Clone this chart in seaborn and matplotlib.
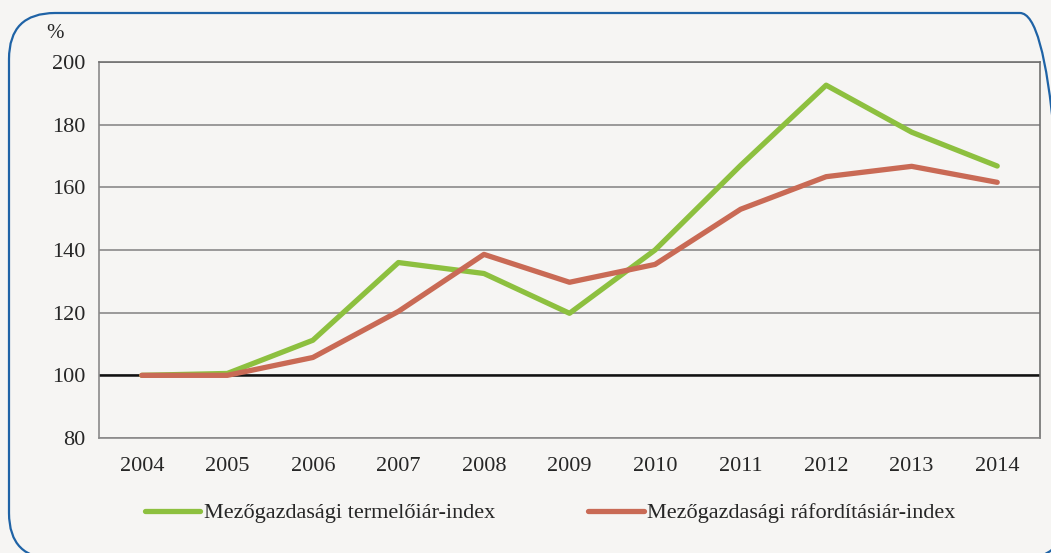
import numpy as np
import pandas as pd
import seaborn as sns
import matplotlib.pyplot as plt
from matplotlib.patches import FancyBboxPatch

years = ["2004", "2005", "2006", "2007", "2008", "2009", "2010", "2011", "2012", "2013", "2014"]
termelo = [100, 100.6, 111.2, 136, 132.5, 119.8, 140, 167, 192.6, 177.6, 166.8]
raforditas = [100, 100, 105.7, 120.4, 138.6, 129.7, 135.4, 153, 163.4, 166.7, 161.6]
series_names = ["Mezőgazdasági termelőiár-index", "Mezőgazdasági ráfordításiár-index"]
colors = ["#8DC03F", "#C96A55"]

df = pd.DataFrame({
    "year": years * 2,
    "value": termelo + raforditas,
    "series": [series_names[0]] * len(years) + [series_names[1]] * len(years),
})

sns.set_style("white")
plt.rcParams["font.family"] = ["Liberation Serif", "DejaVu Serif"]

bg = "#F6F5F3"
W, H = 1051, 553
fig = plt.figure(figsize=(W / 100, H / 100), dpi=100, facecolor=bg)

# background axes in pixel units (origin bottom-left) for the rounded blue frame
bgax = fig.add_axes([0, 0, 1, 1])
bgax.set_xlim(0, W)
bgax.set_ylim(0, H)
bgax.axis("off")
bgax.add_patch(FancyBboxPatch((9, -6), 1057, 546, boxstyle="round,pad=0,rounding_size=46",
                              facecolor="none", edgecolor="#1F63A6", linewidth=1.6,
                              clip_on=False))

ax = fig.add_axes([99 / W, 1 - 438 / H, 941 / W, 376 / H])
ax.set_facecolor(bg)

sns.lineplot(data=df, x="year", y="value", hue="series", palette=colors,
             linewidth=3.8, ax=ax, legend=True, sort=False)

ax.set_ylim(80, 200)
ax.set_xlim(-0.5, len(years) - 0.5)
ax.set_yticks(range(80, 201, 20))
ax.yaxis.grid(True, color="#8A8A8A", linewidth=1.2)
ax.set_axisbelow(True)
ax.axhline(100, color="#111111", linewidth=1.8, zorder=1.5)

for s in ["left", "bottom", "right", "top"]:
    ax.spines[s].set_visible(True)
    ax.spines[s].set_color("#8A8A8A")
    ax.spines[s].set_linewidth(1.2)
ax.spines["right"].set_color("#707070")
ax.spines["top"].set_color("#707070")

ax.set_xticks(np.arange(len(years)))
ax.set_xticklabels(years)
ax.set_xticks(np.arange(-0.5, len(years)), minor=True)
ax.tick_params(axis="x", which="major", length=0, pad=14, labelsize=16)
ax.tick_params(axis="x", which="minor", length=6, width=1.2, color="#8A8A8A", direction="out")
ax.tick_params(axis="y", length=6, width=1.2, color="#8A8A8A", direction="out", labelsize=16, pad=4)
ax.set_xlabel("")
ax.set_ylabel("")

fig.text(46 / W, 1 - 33 / H, "%", fontsize=15, ha="left", va="center")

handles, labels = ax.get_legend_handles_labels()
ax.legend_.remove()
fig.legend(handles, labels, loc="center", bbox_to_anchor=(550 / W, 1 - 513 / H),
           ncol=2, frameon=False, fontsize=16, handlelength=2.5,
           handletextpad=0.15, columnspacing=4.2)

fig.savefig("out.png", dpi=100, facecolor=bg)
